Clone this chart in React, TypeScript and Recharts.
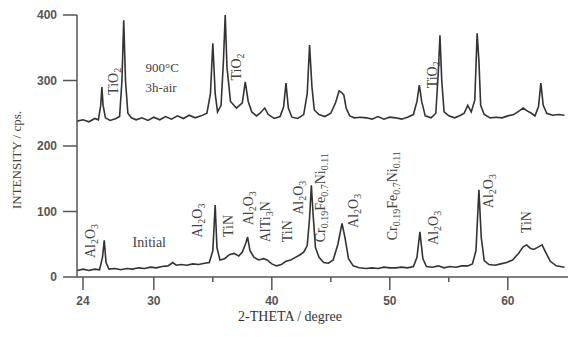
import React from 'react';
import { LineChart, Line, XAxis, YAxis, ReferenceDot } from 'recharts';

// 900°C / 3h-air pattern
const airTheta = [
  23.5, 24.0, 24.5, 25.0, 25.3, 25.5, 25.6, 25.7, 25.9, 26.3, 26.8, 27.1, 27.3, 27.45, 27.6, 27.8,
  28.1, 28.5, 29.0, 29.5, 30.0, 30.5, 31.0, 31.5, 32.0, 32.5, 33.0, 33.5, 34.0, 34.5, 34.8, 35.0,
  35.2, 35.4, 35.7, 35.9, 36.05, 36.2, 36.5, 37.0, 37.5, 37.75, 38.0, 38.3, 38.7, 39.0, 39.4, 39.7,
  40.2, 40.7, 41.0, 41.2, 41.4, 41.7, 42.2, 42.7, 43.0, 43.2, 43.4, 43.6, 44.0, 44.5, 45.0, 45.4,
  45.7, 45.9, 46.1, 46.3, 46.6, 47.0, 47.5, 48.0, 48.5, 49.0, 49.5, 50.0, 50.5, 51.0, 51.5, 52.0,
  52.3, 52.5, 52.7, 53.0, 53.5, 53.9, 54.1, 54.25, 54.4, 54.6, 55.0, 55.5, 56.0, 56.3, 56.6, 56.9,
  57.2, 57.4, 57.55, 57.7, 58.0, 58.5, 59.0, 59.5, 60.0, 60.5, 61.0, 61.3, 61.6, 62.0, 62.3, 62.6,
  62.8, 63.0, 63.3, 63.8, 64.3, 64.8,
];
const airCounts = [
  238, 240, 237, 242, 240, 262, 290, 262, 243, 239, 242, 245, 300, 392, 300, 250,
  243, 240, 243, 239, 244, 240, 245, 241, 246, 242, 247, 243, 246, 250, 280, 357,
  280, 252, 262, 330, 400, 320, 268, 258, 266, 298, 268, 252, 246, 250, 258, 248,
  242, 245, 260, 296, 258, 244, 242, 248, 280, 354, 290, 255, 248, 245, 250, 266,
  284, 282, 278, 258, 246, 243, 244, 243, 241, 245, 241, 244, 243, 241, 244, 248,
  268, 293, 268, 246, 243, 250, 310, 369, 300, 252, 246, 243, 247, 250, 262, 252,
  270, 372, 330, 262, 248, 243, 244, 243, 246, 248, 254, 258, 254, 250, 246, 260,
  296, 262, 250, 247, 248, 247,
];

// Initial pattern
const initTheta = [
  23.5, 24.0, 24.5, 25.0, 25.4, 25.65, 25.8, 25.95, 26.2, 26.7, 27.2, 27.7, 28.2, 28.7, 29.2, 29.7,
  30.2, 30.7, 31.2, 31.6, 31.9, 32.3, 32.8, 33.3, 33.8, 34.3, 34.7, 35.0, 35.2, 35.35, 35.6, 36.0,
  36.4, 36.8, 37.2, 37.5, 37.8, 37.95, 38.15, 38.5, 38.9, 39.3, 39.6, 40.0, 40.4, 40.8, 41.2, 41.6,
  42.0, 42.4, 42.7, 43.0, 43.2, 43.35, 43.5, 43.7, 44.0, 44.4, 44.8, 45.2, 45.6, 45.95, 46.2, 46.5,
  46.9, 47.4, 48.0, 48.5, 49.0, 49.5, 50.0, 50.5, 51.0, 51.5, 52.0, 52.3, 52.55, 52.8, 53.1, 53.6,
  54.1, 54.6, 55.1, 55.6, 56.1, 56.6, 57.0, 57.3, 57.55, 57.75, 58.0, 58.4, 58.9, 59.4, 59.9, 60.4,
  60.9, 61.3, 61.6, 61.9, 62.2, 62.6, 62.9, 63.2, 63.6, 64.1, 64.8,
];
const initCounts = [
  10, 12, 10, 12, 11, 30, 56, 22, 12, 13, 11, 13, 12, 14, 13, 15,
  14, 16, 17, 22, 18, 19, 18, 20, 19, 21, 22, 40, 110, 45, 26, 28,
  34, 36, 32, 38, 52, 61, 40, 30, 26, 28, 26, 20, 17, 19, 24, 26,
  30, 34, 38, 48, 90, 140, 95, 45, 30, 22, 21, 26, 50, 82, 60, 28,
  17, 14, 13, 14, 13, 15, 14, 14, 15, 14, 16, 30, 69, 28, 16, 15,
  17, 14, 16, 15, 17, 17, 20, 40, 133, 60, 25, 19, 18, 20, 22, 26,
  36, 46, 49, 44, 42, 46, 49, 38, 24, 17, 15,
];

const xTicks = [24, 30, 35, 40, 45, 50, 55, 60];
const xLabelled = [24, 30, 40, 50, 60];
const yTicks = [0, 100, 200, 300, 400];

// phase labels (rotated), [element, subscript] pairs
const noteTheta = [26.5, 37.0, 53.6, 24.6, 33.7, 36.3, 38.0, 39.4, 41.3, 42.2, 44.1, 46.9, 50.2, 53.7, 58.3, 61.5];
const noteCounts = [278, 300, 288, 29, 60, 61, 79, 53, 53, 95, 53, 75, 56, 49, 105, 67];
const noteText: [string, string][][] = [
  [['TiO', '2']],
  [['TiO', '2']],
  [['TiO', '2']],
  [['Al', '2'], ['O', '3']],
  [['Al', '2'], ['O', '3']],
  [['TiN', '']],
  [['Al', '2'], ['O', '3']],
  [['AlTi', '3'], ['N', '']],
  [['TiN', '']],
  [['Al', '2'], ['O', '3']],
  [['Cr', '0.19'], ['Fe', '0.7'], ['Ni', '0.11']],
  [['Al', '2'], ['O', '3']],
  [['Cr', '0.19'], ['Fe', '0.7'], ['Ni', '0.11']],
  [['Al', '2'], ['O', '3']],
  [['Al', '2'], ['O', '3']],
  [['TiN', '']],
];

const airData = airTheta.map((t, i) => ({ theta: t, counts: airCounts[i] }));
const initData = initTheta.map((t, i) => ({ theta: t, counts: initCounts[i] }));

const ink = '#333';
const serif = '"Liberation Serif", "DejaVu Serif", serif';
const sans = '"Liberation Sans", Arial, sans-serif';

const XTick = (props: any) => {
  const { x, y, payload } = props;
  const major = xLabelled.includes(payload.value);
  return (
    <g>
      <line x1={x} x2={x} y1={y} y2={y + (major ? 13 : 5)} stroke="#555" strokeWidth={1.5} />
      {major && (
        <text x={x} y={y + 28} textAnchor="middle" fontSize={12} fontFamily={sans} fontWeight={600} fill="#555">
          {payload.value}
        </text>
      )}
    </g>
  );
};

const YTick = (props: any) => {
  const { x, y, payload } = props;
  return (
    <g>
      <line x1={x - 14} x2={x} y1={y} y2={y} stroke="#555" strokeWidth={1.5} />
      <text x={x - 20} y={y + 4} textAnchor="end" fontSize={12} fontFamily={sans} fontWeight={600} fill="#555">
        {payload.value}
      </text>
    </g>
  );
};

const Formula = ({ parts, x, y }: { parts: [string, string][]; x: number; y: number }) => {
  const bx = x + 5;
  const spans: React.ReactNode[] = [];
  let down = false;
  parts.forEach(([main, sub], i) => {
    spans.push(<tspan key={'m' + i} dy={down ? -3 : 0}>{main}</tspan>);
    down = false;
    if (sub) {
      spans.push(<tspan key={'s' + i} dy={3} fontSize={10}>{sub}</tspan>);
      down = true;
    }
  });
  return (
    <text x={bx} y={y} transform={`rotate(-90 ${bx} ${y})`} fontSize={14} fontFamily={serif} fill="#444">
      {spans}
    </text>
  );
};

export default function App() {
  return (
    <div style={{ position: 'absolute', left: 0, top: 0, background: '#fff' }}>
      <LineChart width={568} height={337} margin={{ top: 15, right: 0, bottom: 0, left: 0 }}>
        <XAxis
          dataKey="theta"
          type="number"
          domain={[23.49, 65.1]}
          ticks={xTicks}
          allowDataOverflow
          height={60}
          stroke="#555"
          strokeWidth={1.5}
          tickLine={false}
          tickSize={0}
          tickMargin={0}
          tick={<XTick />}
          label={{
            content: () => (
              <text x={290} y={321} textAnchor="middle" fontSize={14} fontFamily={serif} fill="#333">
                2-THETA / degree
              </text>
            ),
          }}
        />
        <YAxis
          type="number"
          domain={[0, 400]}
          ticks={yTicks}
          allowDataOverflow
          width={77}
          stroke="#555"
          strokeWidth={1.5}
          tickLine={false}
          tickSize={0}
          tickMargin={0}
          tick={<YTick />}
          label={{
            content: () => (
              <text x={21} y={160} transform="rotate(-90 21 160)" textAnchor="middle" fontSize={13} fontFamily={serif} fill="#444">
                INTENSITY / cps.
              </text>
            ),
          }}
        />
        <Line data={airData} dataKey="counts" type="linear" dot={false} stroke={ink} strokeWidth={1.6} isAnimationActive={false} />
        <Line data={initData} dataKey="counts" type="linear" dot={false} stroke={ink} strokeWidth={1.6} isAnimationActive={false} />
        {noteText.map((parts, i) => (
          <ReferenceDot
            key={i}
            x={noteTheta[i]}
            y={noteCounts[i]}
            r={0}
            ifOverflow="visible"
            shape={(p: any) => <Formula parts={parts} x={p.cx} y={p.cy} />}
          />
        ))}
        <ReferenceDot
          x={29.3}
          y={320}
          r={0}
          ifOverflow="visible"
          shape={(p: any) => (
            <text x={p.cx} y={p.cy + 5} fontSize={13} fontFamily={serif} fill="#444">900°C</text>
          )}
        />
        <ReferenceDot
          x={29.3}
          y={290}
          r={0}
          ifOverflow="visible"
          shape={(p: any) => (
            <text x={p.cx} y={p.cy + 5} fontSize={13} fontFamily={serif} fill="#444">3h-air</text>
          )}
        />
        <ReferenceDot
          x={28.2}
          y={53}
          r={0}
          ifOverflow="visible"
          shape={(p: any) => (
            <text x={p.cx} y={p.cy + 5} fontSize={14} fontFamily={serif} fill="#444">Initial</text>
          )}
        />
      </LineChart>
    </div>
  );
}
